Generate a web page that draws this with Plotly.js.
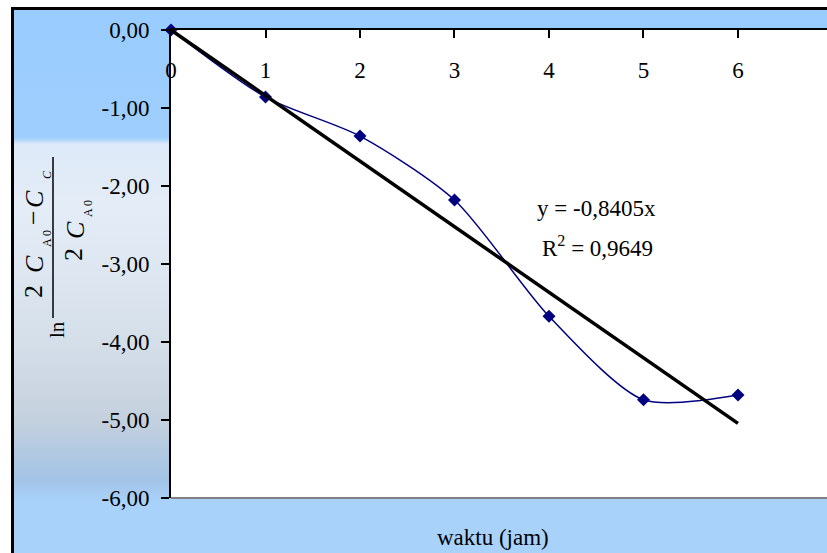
<!DOCTYPE html>
<html>
<head>
<meta charset="utf-8">
<script src="https://cdn.plot.ly/plotly-3.0.1.min.js"></script>
<style>
  html, body { margin:0; padding:0; background:#ffffff; width:827px; height:553px; overflow:hidden; }
  #frame { position:absolute; left:11px; top:7px; width:900px; height:600px;
    border-left:3px solid #000; border-top:3px solid #000; box-sizing:border-box;
    background: linear-gradient(to bottom, #99ccff 0px, #9ecefd 128px, #dde9f8 134px, #e4edf7 200px, #d5dfea 330px, #c4d0dd 410px, #a3c3e6 470px, #a9d2fb 492px, #a9d2fb 600px); }
  #chart { position:absolute; left:0; top:0; width:827px; height:553px; }
</style>
</head>
<body>
<div id="frame"></div>
<div id="chart"></div>
<script>
// Data
const waktu = [0, 1, 2, 3, 4, 5, 6];
const lnValues = [0.00, -0.86, -1.36, -2.18, -3.67, -4.74, -4.68];
const trendSlope = -0.8405;
const trendX = [0, 6];
const yTickVals = [0, -1, -2, -3, -4, -5, -6];
const yTickText = ['0,00', '-1,00', '-2,00', '-3,00', '-4,00', '-5,00', '-6,00'];
const xTickVals = [0, 1, 2, 3, 4, 5, 6];
const xTickText = ['0', '1', '2', '3', '4', '5', '6'];

const W = 827, H = 553, L = 171, R = 0, T = 30, B = 55;
const PW = W - L - R, PH = H - T - B;
const px = v => (v - L) / PW;
const py = v => (H - B - v) / PH;
const FONT = 'Liberation Serif, Times New Roman, serif';

const traces = [
  {
    x: waktu, y: lnValues, type: 'scatter', mode: 'lines+markers',
    line: {color: '#000080', width: 1.5, shape: 'spline', smoothing: 0.75},
    marker: {symbol: 'diamond', size: 10, color: '#000080'},
    cliponaxis: false, hoverinfo: 'x+y'
  },
  {
    x: trendX, y: trendX.map(v => trendSlope * v), type: 'scatter', mode: 'lines',
    line: {color: '#000000', width: 3.5}, cliponaxis: false
  }
];

function rot(text, cx, cy, size, italic) {
  return {xref: 'paper', yref: 'paper', x: px(cx), y: py(cy), xanchor: 'center', yanchor: 'middle',
    text: italic ? '<i>' + text + '</i>' : text, textangle: -90, showarrow: false,
    font: {family: FONT, size: size, color: '#000'}};
}

const annotations = [
  {xref: 'paper', yref: 'paper', x: px(596), y: py(208), xanchor: 'center', yanchor: 'middle',
   text: 'y = -0,8405x', showarrow: false, font: {family: FONT, size: 23, color: '#000'}},
  {xref: 'paper', yref: 'paper', x: px(597), y: py(246), xanchor: 'center', yanchor: 'middle',
   text: 'R<sup>2</sup> = 0,9649', showarrow: false, font: {family: FONT, size: 23, color: '#000'}},
  {xref: 'paper', yref: 'paper', x: px(493), y: py(537), xanchor: 'center', yanchor: 'middle',
   text: 'waktu (jam)', showarrow: false, font: {family: FONT, size: 23, color: '#000'}},
  // y-axis title: ln (2C_A0 - C_C) / (2C_A0)
  rot('ln', 57, 330, 21, false),
  rot('2', 33, 292, 26, false),
  rot('C', 34, 264, 26, true),
  rot('A 0', 47, 239, 12, false),
  rot('\u2212', 33, 218, 26, false),
  rot('C', 34, 199, 26, true),
  rot('C', 47, 175, 12, true),
  rot('2', 74, 255, 26, false),
  rot('C', 75, 230, 26, true),
  rot('A 0', 88, 209, 12, false)
];

const shapes = [
  // fraction bar of the y title
  {type: 'line', xref: 'paper', yref: 'paper', x0: px(53), x1: px(53), y0: py(157), y1: py(318),
   line: {color: '#000', width: 1.5}},
  // plot area bottom border
  {type: 'line', xref: 'paper', yref: 'paper', x0: 0, x1: 1, y0: 0, y1: 0,
   line: {color: '#808080', width: 2}}
];

const layout = {
  width: W, height: H,
  margin: {l: L, r: R, t: T, b: B, pad: 0},
  paper_bgcolor: 'rgba(0,0,0,0)',
  plot_bgcolor: '#ffffff',
  showlegend: false,
  separators: ',.',
  xaxis: {
    range: [0, 6.942], side: 'top', showgrid: false, zeroline: false,
    showline: true, linecolor: '#000', linewidth: 2,
    ticks: 'inside', ticklen: 8, tickwidth: 2, tickcolor: '#000',
    tickvals: xTickVals, ticktext: xTickText,
    ticklabelposition: 'inside', ticklabeloverflow: 'allow', ticklabelstandoff: 26,
    tickfont: {family: FONT, size: 23, color: '#000'}
  },
  yaxis: {
    range: [-6, 0], showgrid: false, zeroline: false,
    showline: true, linecolor: '#000', linewidth: 2,
    ticks: 'outside', ticklen: 8, tickwidth: 2, tickcolor: '#000',
    tickvals: yTickVals, ticktext: yTickText, ticklabelstandoff: 7,
    tickfont: {family: FONT, size: 23, color: '#000'}
  },
  annotations: annotations,
  shapes: shapes
};

Plotly.newPlot('chart', traces, layout, {displayModeBar: false, staticPlot: true});
</script>
</body>
</html>
